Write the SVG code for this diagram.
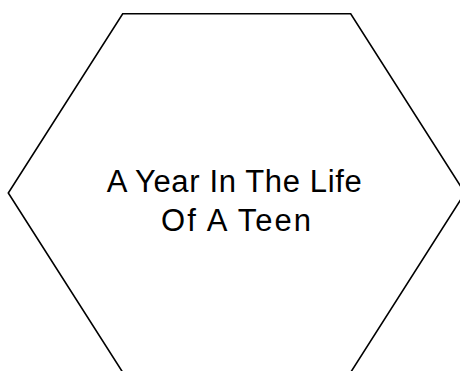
<svg xmlns="http://www.w3.org/2000/svg" width="460" height="371" viewBox="0 0 460 371">
<style>
.shape{fill:#ffffff;stroke:#000000;stroke-width:1.6;stroke-linejoin:miter}
.label{font-family:"Liberation Sans",Arial,sans-serif;font-size:31px;fill:#000000}
</style>
<rect width="460" height="371" fill="#ffffff"/>
<g id="hexagon">
<polygon class="shape" points="122.7,13.7 350.7,13.7 465,193 350.7,372.3 122.7,372.3 8.3,193"/>
<text class="label" x="106.7" y="192.3" textLength="255" lengthAdjust="spacing">A Year In The Life</text>
<text class="label" x="161" y="231" textLength="150" lengthAdjust="spacing">Of A Teen</text>
</g>
<g id="connectors"></g>
</svg>
